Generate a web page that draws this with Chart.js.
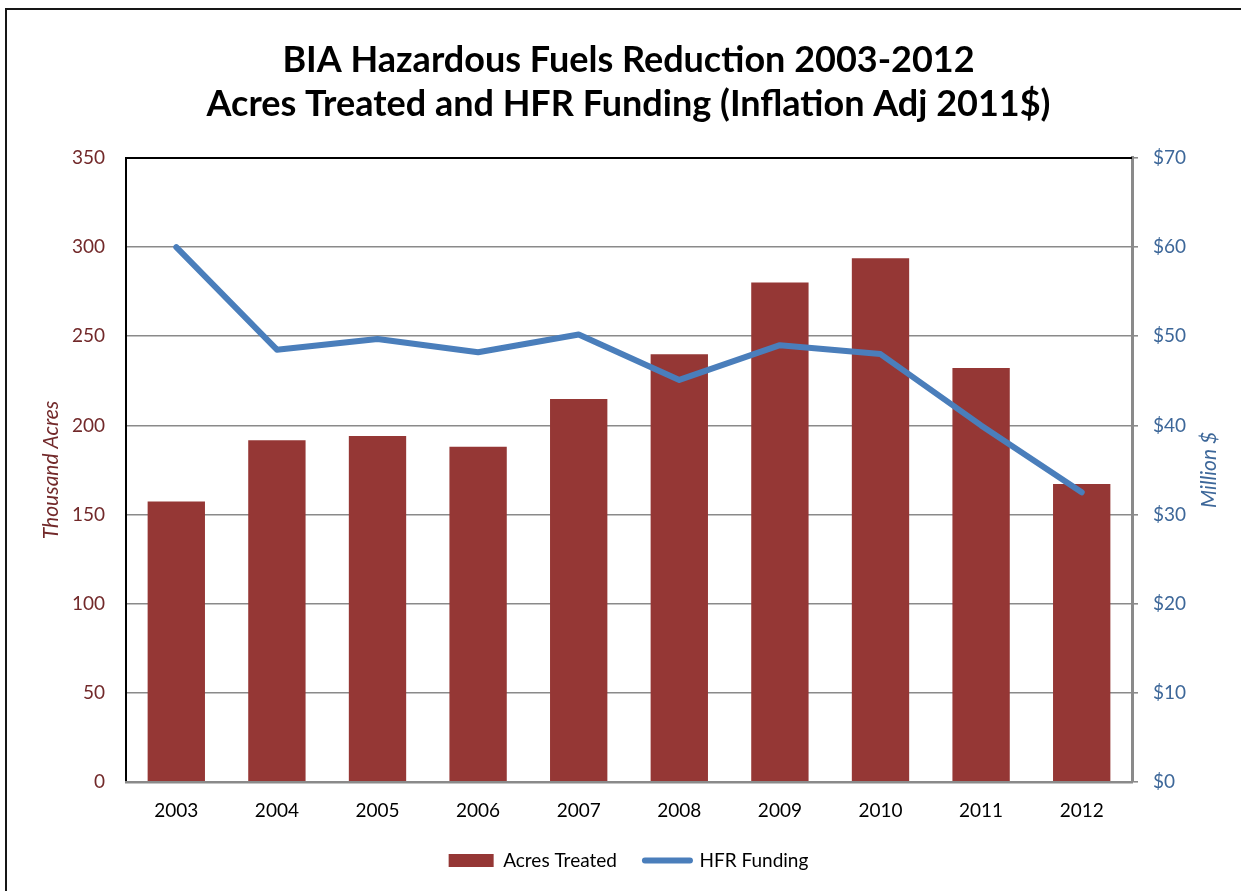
<!DOCTYPE html>
<html>
<head>
<meta charset="utf-8">
<script src="https://cdn.jsdelivr.net/npm/chart.js@4.4.0/dist/chart.umd.min.js"></script>
<style>
    body { margin: 0; background: #fff; }
    .marco { position: absolute; left: 5px; top: 8px; width: 1300px; height: 1000px; border-left: 2px solid #161616; border-top: 2px solid #161616; }
    .grafica { position: absolute; left: 0; top: 0; }
</style>
</head>
<body>
<div class="marco"></div>
<canvas class="grafica" width="1241" height="891"></canvas>
<script>
const anios = ["2003", "2004", "2005", "2006", "2007", "2008", "2009", "2010", "2011", "2012"];
// miles de acres
const acresTratados = [157.3, 191.7, 194.1, 188.1, 214.8, 239.9, 280.2, 293.8, 232.2, 167.1];
// millones de dolares (2011)
const fondosHFR = [60.0, 48.5, 49.7, 48.2, 50.2, 45.1, 49.0, 48.0, 40.0, 32.5];
const tituloLineas = ["BIA Hazardous Fuels Reduction 2003-2012", "Acres Treated and HFR Funding (Inflation Adj 2011$)"];

const fuente = "Lato";
const rojoTexto = "#72292a";
const azulTexto = "#3d6799";

const bordeSuperior = {
    id: "bordeSuperior",
    afterDraw: (chart) => {
        const {ctx, chartArea} = chart;
        ctx.save();
        ctx.strokeStyle = "#000";
        ctx.lineWidth = 2;
        ctx.beginPath();
        ctx.moveTo(chartArea.left - 1, chartArea.top);
        ctx.lineTo(chartArea.right, chartArea.top);
        ctx.stroke();

        // titulo del eje derecho, leido de abajo hacia arriba
        const escala = chart.scales.yDinero;
        ctx.translate(escala.left + 77, (chartArea.top + chartArea.bottom) / 2);
        ctx.rotate(-Math.PI / 2);
        ctx.fillStyle = azulTexto;
        ctx.font = "italic 21px " + fuente;
        ctx.textAlign = "center";
        ctx.textBaseline = "middle";
        ctx.fillText("Million $", 0, 0);
        ctx.restore();
    }
};

const grafica = document.querySelector(".grafica");

new Chart(grafica, {
    type: "bar",
    data: {
        labels: anios,
        datasets: [
            {
                type: "bar",
                label: "Acres Treated",
                data: acresTratados,
                backgroundColor: "#953735",
                borderWidth: 0,
                barPercentage: 0.57,
                categoryPercentage: 1,
                yAxisID: "yAcres",
                order: 1
            },
            {
                type: "line",
                label: "HFR Funding",
                data: fondosHFR,
                borderColor: "#4a7ebb",
                backgroundColor: "#4a7ebb",
                borderWidth: 6,
                pointRadius: 0,
                borderJoinStyle: "round",
                borderCapStyle: "round",
                tension: 0,
                yAxisID: "yDinero",
                order: 0
            }
        ]
    },
    options: {
        responsive: false,
        animation: false,
        layout: { padding: { left: 16, right: 0, top: 0, bottom: 11 } },
        plugins: {
            title: {
                display: true,
                text: tituloLineas,
                color: "#000",
                font: { family: fuente, size: 36, weight: "bold", lineHeight: 1.222 },
                padding: { top: 38, bottom: 32 }
            },
            legend: {
                position: "bottom",
                labels: {
                    color: "#000",
                    font: { family: fuente, size: 19 },
                    usePointStyle: true,
                    pointStyleWidth: 45,
                    boxWidth: 45,
                    boxHeight: 13,
                    padding: 28,
                    generateLabels: (chart) => chart.data.datasets.map((ds, i) => ({
                        text: ds.label,
                        datasetIndex: i,
                        fillStyle: ds.type === "bar" ? ds.backgroundColor : ds.borderColor,
                        strokeStyle: ds.type === "bar" ? ds.backgroundColor : ds.borderColor,
                        lineWidth: ds.type === "bar" ? 0 : 6,
                        lineCap: "round",
                        pointStyle: ds.type === "bar" ? "rect" : "line",
                        fontColor: "#000"
                    }))
                }
            },
            tooltip: { enabled: false }
        },
        scales: {
            x: {
                grid: { display: false },
                border: { display: true, color: "#8a8a8a", width: 2.5, z: 1 },
                ticks: { color: "#000", font: { family: fuente, size: 19 }, padding: 9, maxRotation: 0 },
                afterFit: (escala) => { escala.height = 41; }
            },
            yAcres: {
                position: "left",
                min: 0,
                max: 350,
                ticks: { stepSize: 50, color: rojoTexto, font: { family: fuente, size: 19 }, padding: 21 },
                grid: { color: "#8a8a8a", lineWidth: 1.6, drawTicks: false },
                border: { display: true, color: "#000", width: 2 },
                title: {
                    display: true,
                    text: "Thousand Acres",
                    color: rojoTexto,
                    font: { family: fuente, size: 21, style: "italic" },
                    padding: { top: 23, bottom: 0 }
                },
                afterFit: (escala) => { escala.width = 110; }
            },
            yDinero: {
                position: "right",
                min: 0,
                max: 70,
                ticks: {
                    stepSize: 10,
                    color: azulTexto,
                    font: { family: fuente, size: 19 },
                    padding: 15,
                    callback: (valor) => "$" + valor
                },
                grid: { drawOnChartArea: false, drawTicks: true, tickLength: 6, color: "#8a8a8a", lineWidth: 1.6 },
                border: { display: true, color: "#8a8a8a", width: 3 },
                afterFit: (escala) => { escala.width = 109; }
            }
        }
    },
    plugins: [bordeSuperior]
});
</script>
</body>
</html>
